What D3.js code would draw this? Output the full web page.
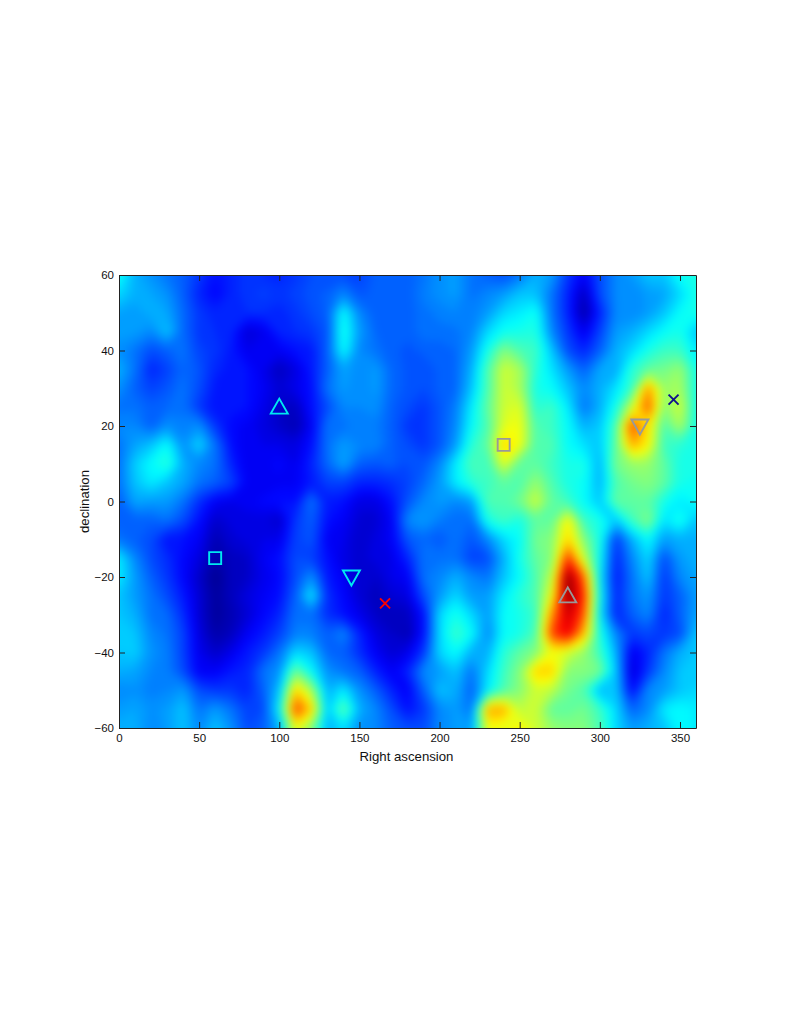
<!DOCTYPE html>
<html>
<head>
<meta charset="utf-8">
<style>
    html, body { margin: 0; background: #fff; }
    text { font-family: "Liberation Sans", sans-serif; fill: #111; }
    .axis text { font-size: 11.5px; }
    .axis path, .axis line { stroke: #222; stroke-width: 1; }
    .label { font-size: 13.2px; }
</style>
<script src="https://cdn.jsdelivr.net/npm/d3@7"></script>
</head>
<body>
<div id="chart"></div>
<script>
/* global d3 */
// grid nodes
const raNodes = d3.range(0, 361, 10);
const decNodes = d3.range(60, -61, -5);

// one row per declination, top to bottom: position along the jet colormap, in percent
const intensity = [
    [37,28,25,22,20,16,12,14,16,15,14,16,18,18,18,17,20,20,20,22,25,26,22,20,18,22,28,26,16,10,18,24,26,30,30,37,38],
    [32,28,27,25,20,14,11,14,16,17,16,17,19,20,24,19,20,20,20,23,25,26,22,24,26,30,30,22,14,5,18,24,24,26,27,32,38],
    [27,26,28,27,21,16,14,14,15,15,14,16,18,20,36,24,20,20,20,22,23,24,23,26,32,34,37,22,14,3,14,24,24,26,30,36,38],
    [26,26,24,30,21,16,15,14,7,9,14,15,16,19,38,26,21,20,20,22,22,22,24,32,37,38,39,24,16,9,17,26,28,32,36,38,30],
    [25,22,18,20,22,17,16,13,9,10,10,12,13,20,36,24,22,20,19,20,20,21,26,38,50,44,42,30,18,14,20,28,32,38,42,42,34],
    [28,22,14,17,21,19,14,13,12,9,5,8,13,20,27,24,26,21,19,18,20,21,28,44,58,54,40,33,26,20,27,27,40,46,48,52,38],
    [25,20,17,19,22,18,13,13,12,10,7,9,12,22,26,24,26,21,19,18,20,21,30,44,58,54,38,36,30,24,28,33,42,74,52,54,38],
    [22,22,20,21,22,16,12,13,12,9,6,5,12,18,24,24,25,20,18,16,19,23,34,46,58,60,40,42,34,22,28,38,58,80,50,58,38],
    [24,24,20,25,23,25,16,11,10,8,6,4,10,22,22,23,23,20,16,16,19,24,36,44,60,62,44,42,36,28,30,44,82,66,44,54,38],
    [22,27,30,36,25,32,22,12,9,9,9,8,12,22,26,24,24,20,18,16,19,26,40,46,68,62,44,44,36,33,30,46,72,64,42,40,38],
    [22,31,36,40,28,24,22,14,9,10,11,9,14,21,27,20,19,20,18,19,24,34,44,42,60,46,46,42,38,38,28,48,52,52,46,38,38],
    [22,30,34,30,27,22,20,17,10,9,10,10,13,17,17,14,14,15,17,21,26,34,40,42,46,44,52,44,38,37,28,44,48,50,46,38,37],
    [20,27,26,26,22,15,10,9,10,11,12,12,22,13,12,8,8,12,19,24,26,24,26,44,44,48,58,46,42,36,30,46,46,46,38,34,36],
    [20,20,20,22,18,12,6,8,8,8,6,16,20,12,10,7,7,10,24,26,23,21,21,38,42,38,46,46,64,42,38,30,42,50,33,38,30],
    [22,20,18,12,12,10,4,7,8,9,9,17,19,10,9,6,8,10,19,21,19,22,19,24,32,36,48,50,68,50,38,16,28,36,26,28,28],
    [34,24,18,15,11,8,3,5,6,10,12,18,17,12,8,7,8,9,14,22,22,22,17,18,28,38,46,50,84,58,36,14,24,32,18,26,28],
    [34,26,20,16,11,6,1,5,6,9,11,18,25,13,10,6,6,9,10,22,24,28,24,22,30,36,44,56,100,78,34,13,22,30,16,24,27],
    [30,26,22,18,13,7,2,5,8,10,12,20,34,15,11,7,5,7,8,18,26,32,26,26,34,40,44,62,100,84,36,14,22,26,16,20,26],
    [30,28,22,21,15,7,2,4,7,11,14,22,22,15,12,9,6,5,5,12,32,38,32,26,36,38,42,74,94,80,34,14,20,24,14,20,27],
    [31,30,24,22,17,8,3,5,10,13,17,23,23,20,24,14,8,6,4,12,32,42,36,24,36,38,44,82,90,70,38,24,16,18,16,18,30],
    [30,31,25,23,17,9,6,9,13,16,22,32,30,21,20,15,10,7,9,16,32,36,28,28,40,46,50,62,58,52,42,28,9,14,22,28,30],
    [28,27,24,23,18,10,10,13,14,22,25,48,36,25,22,20,14,10,14,24,26,30,22,32,42,50,68,68,50,50,48,30,7,16,24,30,30],
    [24,25,23,24,26,18,16,16,14,20,30,68,54,28,34,25,20,14,10,20,30,28,20,34,44,50,58,56,48,44,28,30,11,24,26,30,32],
    [26,27,25,26,30,22,26,22,17,18,35,82,68,30,46,28,24,18,12,16,24,26,22,72,72,56,58,46,46,48,42,32,20,24,34,36,34],
    [28,28,24,26,30,24,30,25,18,20,28,62,50,28,33,25,24,20,18,18,24,26,26,62,60,64,58,52,50,50,44,32,26,28,30,36,34]
];

const xTicks = [0, 50, 100, 150, 200, 250, 300, 350];
const yTicks = [60, 40, 20, 0, -20, -40, -60];

const markerRa = [100, 60, 145, 166, 240, 325, 280, 346];
const markerDec = [25, -15, -20, -27, 15, 20, -25, 27];
const markerShape = ["up", "square", "down", "x", "square", "down", "up", "x"];
const markerColor = ["#00e8f0", "#00e8f0", "#00e8f0", "#ff0000", "#999999", "#999999", "#999999", "#10108c"];

const width = 790, height = 1022;
const margin = { left: 119, top: 275, right: 94, bottom: 294 };
const plotW = width - margin.left - margin.right;
const plotH = height - margin.top - margin.bottom;

const x = d3.scaleLinear().domain([0, 360]).range([margin.left, margin.left + plotW]);
const y = d3.scaleLinear().domain([-60, 60]).range([margin.top + plotH, margin.top]);

// matlab jet, blue end nudged to suit the values as they were read
const jet = d3.scaleLinear()
    .domain([0, 10, 35, 62.5, 87.5, 100])
    .range(["#00008f", "#0000ff", "#00ffff", "#ffff00", "#ff0000", "#800000"])
    .clamp(true);

const svg = d3.select("#chart").append("svg")
    .attr("width", width)
    .attr("height", height)
    .style("display", "block");

const defs = svg.append("defs");

defs.append("clipPath").attr("id", "plot-clip")
    .append("rect")
    .attr("x", margin.left).attr("y", margin.top)
    .attr("width", plotW).attr("height", plotH);

// the blur only softens the rendered contour steps, like shading interp
defs.append("filter").attr("id", "soften")
    .attr("filterUnits", "userSpaceOnUse")
    .attr("x", 0).attr("y", 0).attr("width", width).attr("height", height)
    .attr("color-interpolation-filters", "sRGB")
    .append("feGaussianBlur")
    .attr("stdDeviation", "4 5");

// repeat the edge cells so that the blur has something to pull in at the box
const pad = 3;
const padIndex = n => d3.range(-pad, n + pad).map(i => Math.max(0, Math.min(n - 1, i)));
const paddedValues = padIndex(decNodes.length).flatMap(r =>
    padIndex(raNodes.length).map(c => intensity[r][c]));

// d3.contours puts value i at i + 0.5, so map that back on to the data scales
const nodeProjection = d3.geoTransform({
    point: function(gx, gy) {
        this.stream.point(
            x(raNodes[0] + (gx - 0.5 - pad) * (raNodes[1] - raNodes[0])),
            y(decNodes[0] + (gy - 0.5 - pad) * (decNodes[1] - decNodes[0]))
        );
    }
});

const contours = d3.contours()
    .size([raNodes.length + 2 * pad, decNodes.length + 2 * pad])
    .thresholds(d3.range(0, 100, 1.5))(paddedValues);

svg.append("g")
    .attr("clip-path", "url(#plot-clip)")
    .append("g")
    .attr("filter", "url(#soften)")
    .selectAll("path")
    .data(contours)
    .join("path")
    .attr("d", d3.geoPath(nodeProjection))
    .attr("fill", d => jet(d.value));

// markers
const symbolPath = function(shape) {
    if (shape === "up") return "M0,-8.5L8.5,6.5L-8.5,6.5Z";
    if (shape === "down") return "M0,8.5L8.5,-6.5L-8.5,-6.5Z";
    if (shape === "square") return "M-6,-6H6V6H-6Z";
    return "M-5,-5L5,5M-5,5L5,-5";
};

svg.append("g")
    .selectAll("path")
    .data(markerRa)
    .join("path")
    .attr("transform", (d, i) => `translate(${x(d)},${y(markerDec[i])})`)
    .attr("d", (d, i) => symbolPath(markerShape[i]))
    .attr("fill", "none")
    .attr("stroke", (d, i) => markerColor[i])
    .attr("stroke-width", 1.9);

// box and ticks, ticks point inwards
const bottomAxis = d3.axisBottom(x).tickValues(xTicks).tickSizeInner(-6).tickSizeOuter(0).tickPadding(6);
const leftAxis = d3.axisLeft(y).tickValues(yTicks).tickSizeInner(-6).tickSizeOuter(0).tickPadding(5);
const topAxis = d3.axisTop(x).tickValues(xTicks).tickSizeInner(-6).tickSizeOuter(0).tickFormat("");
const rightAxis = d3.axisRight(y).tickValues(yTicks).tickSizeInner(-6).tickSizeOuter(0).tickFormat("");

svg.append("g").attr("class", "axis").attr("transform", `translate(0,${margin.top + plotH})`).call(bottomAxis);
svg.append("g").attr("class", "axis").attr("transform", `translate(${margin.left},0)`).call(leftAxis);
svg.append("g").attr("class", "axis").attr("transform", `translate(0,${margin.top})`).call(topAxis);
svg.append("g").attr("class", "axis").attr("transform", `translate(${margin.left + plotW},0)`).call(rightAxis);

svg.append("text")
    .attr("class", "label")
    .attr("x", margin.left + plotW / 2 - 1)
    .attr("y", 761)
    .attr("text-anchor", "middle")
    .text("Right ascension");

svg.append("text")
    .attr("class", "label")
    .attr("transform", `translate(89,${margin.top + plotH / 2}) rotate(-90)`)
    .attr("text-anchor", "middle")
    .text("declination");
</script>
</body>
</html>
